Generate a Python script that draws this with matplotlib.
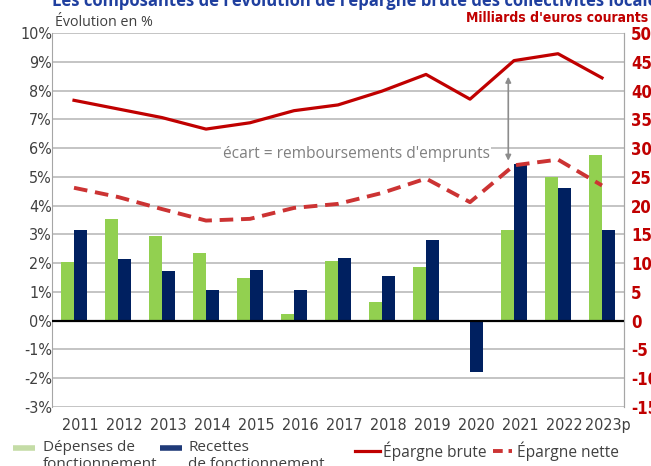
import numpy as np
import matplotlib
matplotlib.use("Agg")
import matplotlib.pyplot as plt
import matplotlib.transforms as mtransforms
from matplotlib.lines import Line2D

# data
years = ['2011', '2012', '2013', '2014', '2015', '2016', '2017',
         '2018', '2019', '2020', '2021', '2022', '2023p']
depenses = [2.03, 3.54, 2.94, 2.36, 1.50, 0.24, 2.07, 0.64, 1.85, -0.02, 3.16, 5.00, 5.77]
recettes = [3.16, 2.15, 1.73, 1.06, 1.77, 1.08, 2.18, 1.54, 2.81, -1.80, 5.43, 4.62, 3.15]
epargne_brute = [38.3, 36.8, 35.3, 33.3, 34.4, 36.5, 37.5, 39.9, 42.8, 38.5, 45.2, 46.4, 42.2]
epargne_nette = [23.1, 21.5, 19.4, 17.4, 17.7, 19.6, 20.3, 22.2, 24.7, 20.6, 27.0, 28.0, 23.5]

left_ticks = list(range(-3, 11))
right_ticks = list(range(-15, 51, 5))

green = '#92d050'
navy = '#002060'
red = '#c00000'
red_dash = '#cc3333'
grey_txt = '#404040'
narrow = dict(family='DejaVu Sans', stretch='condensed')
plain = ['Open Sans', 'DejaVu Sans']

W, H = 651, 466
fig = plt.figure(figsize=(W / 100, H / 100), dpi=100)
ax = fig.add_axes([52 / W, 59 / H, 572 / W, 374 / H])

x = np.arange(len(years))
bw = 0.285

ax.set_axisbelow(True)
for t in left_ticks:
    ax.axhline(t, color='#bfbfbf', lw=1.3, zorder=0)
ax.bar(x - bw / 2, depenses, bw, color=green, zorder=2)
ax.bar(x + bw / 2, recettes, bw, color=navy, zorder=2)
ax.axhline(0, color='black', lw=1.6, zorder=3)

ax.set_xlim(-0.5, 12.5)
ax.set_ylim(-3, 10)
ax.set_yticks(left_ticks)
ax.set_yticklabels([f'{t}%' for t in left_ticks], fontsize=11.5, color=grey_txt, **narrow)
ax.set_xticks(x)
ax.set_xticklabels(years, fontsize=11.5, color=grey_txt, **narrow)
ax.tick_params(axis='y', length=0, pad=0)
ax.tick_params(axis='x', length=0, pad=8)
offset = mtransforms.ScaledTranslation(6 / 100, 0, fig.dpi_scale_trans)
for lbl in ax.get_xticklabels():
    lbl.set_transform(lbl.get_transform() + offset)

for s in ['top', 'bottom']:
    ax.spines[s].set_visible(False)
ax.spines['left'].set_color('#a6a6a6')
ax.spines['right'].set_color('#a6a6a6')

# right axis: billions of euros
ax2 = ax.twinx()
ax2.set_ylim(-15, 50)
ax2.plot(x, epargne_brute, color=red, lw=2.3, zorder=4)
ax2.plot(x, epargne_nette, color=red_dash, lw=2.8, linestyle=(0, (3.5, 2)), zorder=4)
ax2.set_yticks(right_ticks)
ax2.set_yticklabels([str(t) for t in right_ticks], fontsize=12,
                    color=red, fontweight='bold', **narrow)
ax2.tick_params(axis='y', length=0, pad=5)
for s in ['top', 'bottom', 'left']:
    ax2.spines[s].set_visible(False)
ax2.spines['right'].set_color('#a6a6a6')

ax2.annotate('', xy=(9.87, 27.8), xytext=(9.87, 42.4),
             arrowprops=dict(arrowstyle='<|-|>', color='#8c8c8c', lw=1.2,
                             mutation_scale=8, shrinkA=0, shrinkB=0))
ax2.text(9.45, 29.0, "écart = remboursements d'emprunts", ha='right', va='center',
         family=plain, fontsize=11.2, color='#808080',
         bbox=dict(boxstyle='square,pad=0.1', fc='white', ec='none'))

# titles
fig.text(52 / W, 1 - 6.5 / H, "Les composantes de l'évolution de l'épargne brute des collectivités locales",
         family=plain, fontweight='bold', fontsize=12, color='#1f3f9f', va='baseline')
fig.text(55 / W, 1 - 23 / H, 'Évolution en %', family=plain, fontsize=10.3,
         color=grey_txt, va='center')
fig.text(1 - 3 / W, 1 - 18 / H, "Milliards d'euros courants", fontsize=10,
         fontweight='bold', color=red, va='center', ha='right', **narrow)

# legend drawn by hand
def fig_line(x0, x1, y, **kw):
    fig.add_artist(Line2D([x0 / W, x1 / W], [1 - y / H, 1 - y / H], **kw))

fig_line(13, 35, 448, color='#c4dca6', lw=4, solid_capstyle='butt')
fig.text(43 / W, 1 - 440 / H, 'Dépenses de\nfonctionnement', family=plain, fontsize=11,
         color=grey_txt, va='top', linespacing=1.2)
fig_line(160, 182, 448, color='#1f3a78', lw=4, solid_capstyle='butt')
fig.text(188 / W, 1 - 440 / H, 'Recettes\nde fonctionnement', family=plain, fontsize=11,
         color=grey_txt, va='top', linespacing=1.2)
fig_line(355, 380, 451, color=red, lw=2.3)
fig.text(383 / W, 1 - 451 / H, 'Épargne brute', family=plain, fontsize=11.2,
         color=grey_txt, va='center')
fig_line(493, 512, 451, color=red_dash, lw=2.8, linestyle=(0, (2.5, 1.5)))
fig.text(517 / W, 1 - 451 / H, 'Épargne nette', family=plain, fontsize=11.2,
         color=grey_txt, va='center')

fig.savefig('out.png', dpi=100)
